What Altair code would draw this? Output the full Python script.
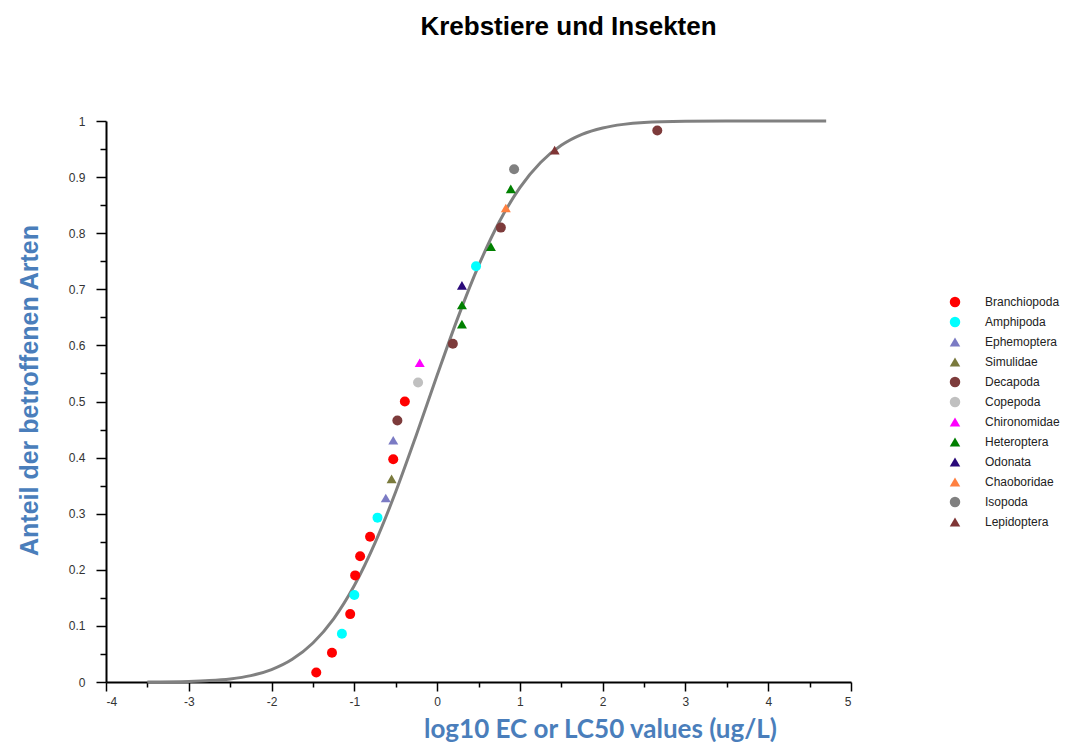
import altair as alt
import pandas as pd

# ---- legend categories ----
groups = ["Branchiopoda", "Amphipoda", "Ephemoptera", "Simulidae", "Decapoda", "Copepoda",
          "Chironomidae", "Heteroptera", "Odonata", "Chaoboridae", "Isopoda", "Lepidoptera"]
group_colors = ["#ff0000", "#00ffff", "#7b7bc4", "#7a7a3c", "#7d3b3b", "#c0c0c0",
                "#ff00ff", "#008000", "#2a0a7a", "#ff8040", "#808080", "#7f3535"]
group_shapes = ["circle", "circle", "triangle-up", "triangle-up", "circle", "circle",
                "triangle-up", "triangle-up", "triangle-up", "triangle-up", "circle", "triangle-up"]

# ---- data points ----
point_group = ["Branchiopoda", "Branchiopoda", "Amphipoda", "Branchiopoda", "Amphipoda",
               "Branchiopoda", "Branchiopoda", "Branchiopoda", "Amphipoda", "Ephemoptera",
               "Simulidae", "Branchiopoda", "Ephemoptera", "Decapoda", "Branchiopoda",
               "Copepoda", "Chironomidae", "Decapoda", "Heteroptera", "Heteroptera",
               "Odonata", "Amphipoda", "Heteroptera", "Decapoda", "Chaoboridae",
               "Heteroptera", "Isopoda", "Lepidoptera", "Decapoda"]
point_x = [-1.46, -1.27, -1.15, -1.05, -1.00, -0.99, -0.93, -0.81, -0.72, -0.62,
           -0.55, -0.53, -0.53, -0.48, -0.39, -0.23, -0.21, 0.19, 0.30, 0.30,
           0.30, 0.47, 0.65, 0.77, 0.83, 0.89, 0.93, 1.42, 2.66]
point_y = [0.017, 0.052, 0.086, 0.121, 0.155, 0.190, 0.224, 0.259, 0.293, 0.328,
           0.362, 0.397, 0.431, 0.466, 0.500, 0.534, 0.569, 0.603, 0.638, 0.672,
           0.707, 0.741, 0.776, 0.810, 0.845, 0.879, 0.914, 0.948, 0.983]

# ---- fitted curve ----
curve_x = [-3.5, -3.0, -2.75, -2.5, -2.25, -2.0, -1.75, -1.5, -1.25, -1.0, -0.75, -0.5,
           -0.25, 0.0, 0.25, 0.5, 0.75, 1.0, 1.25, 1.5, 1.75, 2.0, 2.25, 2.5, 3.0, 3.5, 4.7]
curve_y = [0.0002, 0.0011, 0.0025, 0.0055, 0.0114, 0.0222, 0.0405, 0.0696, 0.1126, 0.1719,
           0.2480, 0.3391, 0.4408, 0.5466, 0.6491, 0.7418, 0.8199, 0.8812, 0.9260, 0.9566,
           0.9761, 0.9876, 0.9940, 0.9973, 0.9995, 1.0, 1.0]

# ---- axis ticks ----
x_major = [-4, -3, -2, -1, 0, 1, 2, 3, 4, 5]
x_minor = [-3.5, -2.5, -1.5, -0.5, 0.5, 1.5, 2.5, 3.5, 4.5]
y_major = [0, 0.1, 0.2, 0.3, 0.4, 0.5, 0.6, 0.7, 0.8, 0.9, 1]
y_minor = [0.05, 0.15, 0.25, 0.35, 0.45, 0.55, 0.65, 0.75, 0.85, 0.95]

pts = pd.DataFrame({"x": point_x, "y": point_y, "group": point_group})
crv = pd.DataFrame({"x": curve_x, "y": curve_y})

xscale = alt.Scale(domain=[-4, 5], nice=False, zero=False)
yscale = alt.Scale(domain=[0, 1], nice=False, zero=False)

TITLE_BLUE = "#4a7ebb"

curve = alt.Chart(crv).mark_line(color="#808080", strokeWidth=3, interpolate="monotone").encode(
    x=alt.X("x:Q", scale=xscale, title="",
            axis=alt.Axis(values=x_minor, labels=False, domain=False, ticks=True, tickSize=5,
                          tickColor="black", tickWidth=1.5, grid=False, orient="bottom")),
    y=alt.Y("y:Q", scale=yscale, title="",
            axis=alt.Axis(values=y_minor, labels=False, domain=False, ticks=True, tickSize=6,
                          tickColor="black", tickWidth=1.5, grid=False, orient="left")),
)

points = alt.Chart(pts).mark_point(filled=True, size=100, opacity=1).encode(
    x=alt.X("x:Q", scale=xscale, title="log10 EC or LC50 values (ug/L)",
            axis=alt.Axis(values=x_major, tickSize=9, tickColor="black", tickWidth=1.5,
                          domainColor="black", domainWidth=2, grid=False, orient="bottom",
                          labelFont="Liberation Sans", labelFontSize=12, labelColor="#333333",
                          labelPadding=5, labelExpr="'' + datum.value",
                          titleFont="Lato", titleFontSize=26, titleFontWeight="bold",
                          titleColor=TITLE_BLUE, titleX=494, titleY=47,
                          titleAlign="center", titleBaseline="middle")),
    y=alt.Y("y:Q", scale=yscale, title="Anteil der betroffenen Arten",
            axis=alt.Axis(values=y_major, tickSize=10, tickColor="black", tickWidth=1.5,
                          domainColor="black", domainWidth=2, grid=False, orient="left",
                          labelFont="Liberation Sans", labelFontSize=12, labelColor="#333333",
                          labelPadding=11, labelExpr="'' + datum.value",
                          titleFont="Liberation Sans", titleFontSize=25, titleFontWeight="bold",
                          titleColor=TITLE_BLUE, titleX=-77, titleY=269,
                          titleAlign="center", titleBaseline="middle", titleAngle=270)),
    color=alt.Color("group:N", scale=alt.Scale(domain=groups, range=group_colors), title=None,
                    legend=alt.Legend(orient="none", legendX=843, legendY=175, padding=0,
                                      symbolSize=110, labelFont="Liberation Sans",
                                      labelFontSize=12, labelColor="#222222", labelOffset=24,
                                      rowPadding=8, symbolStrokeWidth=0)),
    shape=alt.Shape("group:N", scale=alt.Scale(domain=groups, range=group_shapes), title=None),
)

chart = alt.layer(curve, points).resolve_axis(x="independent", y="independent").properties(
    width=745,
    height=561,
    autosize=alt.AutoSizeParams(type="none"),
    padding={"left": 98, "top": 113, "right": 222, "bottom": 60},
    title=alt.Title("Krebstiere und Insekten", font="Liberation Sans", fontSize=26,
                    fontWeight="bold", color="black", anchor="middle", dx=90, offset=75),
).configure_view(strokeWidth=0)

chart.save("out.html", embed_options={"renderer": "svg", "actions": False})
